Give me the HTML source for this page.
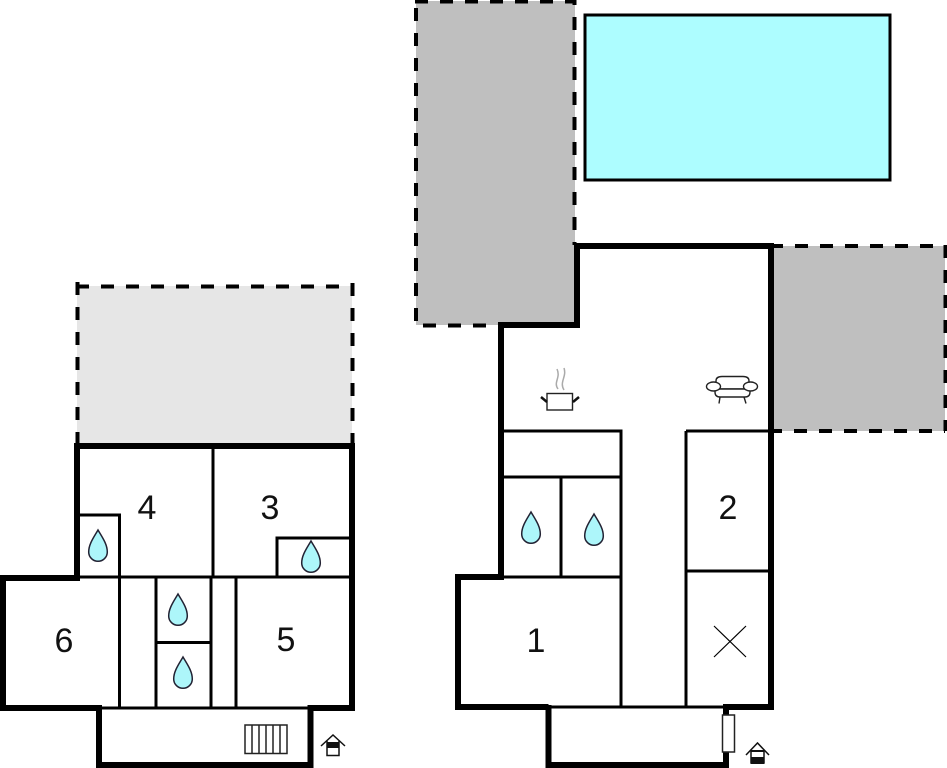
<!DOCTYPE html>
<html><head><meta charset="utf-8"><style>
html,body{margin:0;padding:0;background:#fff}
svg{display:block}
text{font-family:"Liberation Sans",sans-serif;font-size:34px;fill:#111;text-anchor:middle}
</style></head><body>
<svg width="947" height="768" viewBox="0 0 947 768" xmlns="http://www.w3.org/2000/svg">
<defs>
<path id="d" d="M0-16C4-9 9.300-2 9.300 6A9.300 9.300 0 0 1-9.300 6C-9.300-2-4-9 0-16Z" fill="#adf6fa" stroke="#223" stroke-width="1.500"/>
</defs>
<!-- fills -->
<rect x="77" y="286" width="275" height="160" fill="#e6e6e6"/>
<rect x="416" y="1" width="159" height="324" fill="#bfbfbf"/>
<rect x="772" y="246" width="173" height="185" fill="#bfbfbf"/>
<rect x="585" y="15" width="305" height="165" fill="#adfdff" stroke="#000" stroke-width="3"/>
<!-- dashed -->
<g fill="none" stroke="#000" stroke-dasharray="13 12" stroke-width="4">
<path d="M76 286.500H352"/>
<path d="M77.500 282V443"/>
<path d="M352.500 283V443"/>
<path d="M415 1.500H575"/>
<path d="M416 8V325"/>
<path d="M574.500 -8V245"/>
<path d="M423 325.500H500"/>
<path d="M770 246H945"/>
<path d="M769 431H945"/>
<path d="M945.500 245V431"/>
</g>
<!-- thin left -->
<g fill="none" stroke="#000" stroke-width="3">
<path d="M213 446V577"/>
<path d="M80 515H119.500V577"/>
<path d="M277 577V538H352"/>
<path d="M80 577H352"/>
<path d="M119.500 577V708"/>
<path d="M156 577V708"/>
<path d="M211 577V708"/>
<path d="M236 577V708"/>
<path d="M156 642.500H211"/>
<path d="M100 708H310"/>
</g>
<!-- thick left -->
<path d="M3 708V578H77V446H352V708H310.500V765H99V708Z" fill="none" stroke="#000" stroke-width="6"/>
<!-- thin right -->
<g fill="none" stroke="#000" stroke-width="3">
<path d="M502 431H621V708"/>
<path d="M502 477H621"/>
<path d="M561 477V577"/>
<path d="M502 577H621"/>
<path d="M686 431V708"/>
<path d="M686 431H770"/>
<path d="M686 571H770"/>
<path d="M550 707H725"/>
<path d="M714 626L746 657M746 626L714 657" stroke-width="1.200"/>
</g>
<!-- thick right -->
<path d="M548.500 707H458V577H501V325H577V246H771V707H726V716" fill="none" stroke="#000" stroke-width="6"/>
<path d="M548.500 705V765H726V750" fill="none" stroke="#000" stroke-width="6"/>
<rect x="722.500" y="715" width="12" height="37" fill="#fff" stroke="#222" stroke-width="1.500"/>
<!-- drops -->
<use href="#d" x="98" y="546"/>
<use href="#d" x="311" y="557"/>
<use href="#d" x="178" y="610"/>
<use href="#d" x="183" y="673"/>
<use href="#d" x="531" y="528"/>
<use href="#d" x="594" y="530"/>
<!-- labels -->
<text x="147" y="519">4</text>
<text x="270" y="519">3</text>
<text x="64" y="652">6</text>
<text x="286" y="651">5</text>
<text x="536" y="652">1</text>
<text x="728" y="519">2</text>
<!-- radiator -->
<g fill="none" stroke="#222" stroke-width="1.500">
<rect x="245" y="725" width="42" height="28.500"/>
<path d="M252 725v28M259 725v28M266 725v28M273 725v28M280 725v28"/>
</g>
<!-- entrances -->
<g fill="none" stroke="#111" stroke-width="1.500">
<path d="M321 746L333 735L345 746"/>
<path d="M327 741V755.500H339V741"/>
<path d="M746 755L757.500 743L769 755"/>
<path d="M751 750V763H764V750"/>
</g>
<rect x="327" y="742" width="12" height="6" fill="#111"/>
<path d="M751 751H764" stroke="#111" stroke-width="2"/>
<rect x="751" y="757" width="13" height="7" fill="#111"/>
<!-- pot -->
<g fill="none" stroke="#222" stroke-width="1.400">
<rect x="547" y="393.500" width="25.500" height="16.500"/>
<path d="M558 389C553 382 561 378 557 369M564 390C559 382 567 377 564 368" stroke="#aaa" stroke-width="1.500"/>
<path d="M541 397L547 402M579 397L573 402" stroke="#111" stroke-width="2.500"/>
</g>
<!-- sofa -->
<g fill="#fff" stroke="#222" stroke-width="1.400">
<path d="M720 397L719 403.500M744 397L746 403.500"/>
<path d="M716 389V381Q716 376.500 722 376.500H743Q749 376.500 749 381V389Z"/>
<path d="M715 389H750V392Q750 397 745 397H720Q715 397 715 392Z"/>
<ellipse cx="713.500" cy="386.500" rx="7" ry="4.500"/>
<ellipse cx="750.500" cy="386.500" rx="7" ry="4.500"/>
</g>
</svg>
</body></html>
